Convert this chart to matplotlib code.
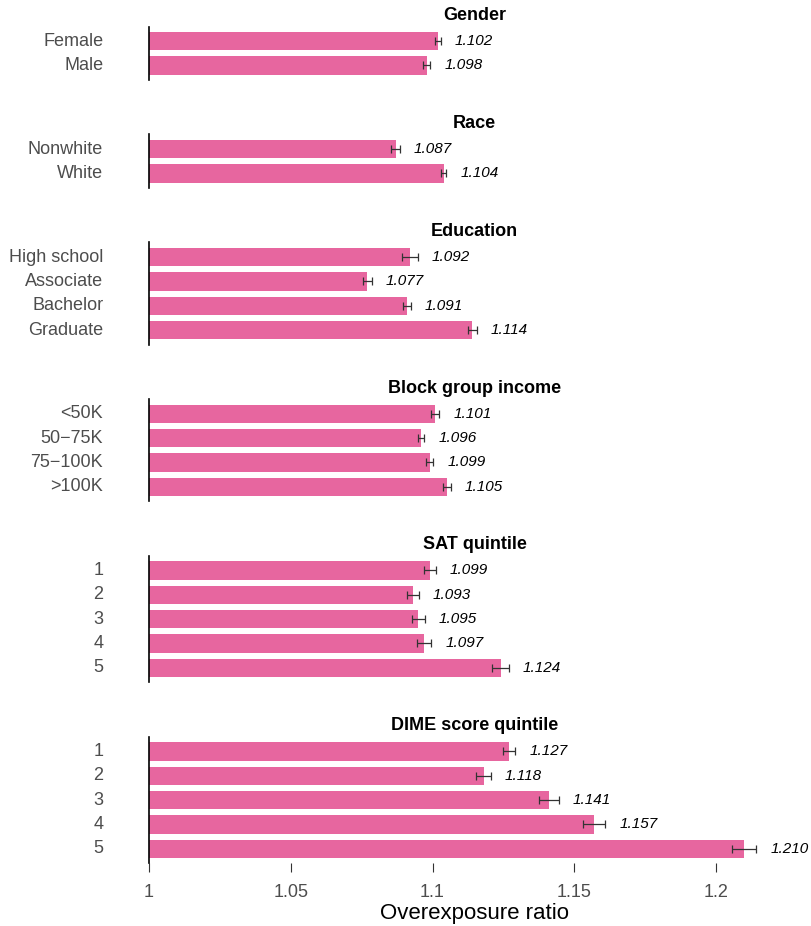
import matplotlib
matplotlib.use("Agg")
import matplotlib.pyplot as plt

plt.rcParams['font.family'] = ['Liberation Sans', 'DejaVu Sans']

# ---- data ---------------------------------------------------------------
panel_titles = ["Gender", "Race", "Education", "Block group income",
                "SAT quintile", "DIME score quintile"]

gender_labels = ["Female", "Male"]
gender_ratio = [1.102, 1.098]
gender_err = [0.0010, 0.0012]

race_labels = ["Nonwhite", "White"]
race_ratio = [1.087, 1.104]
race_err = [0.0016, 0.0009]

education_labels = ["High school", "Associate", "Bachelor", "Graduate"]
education_ratio = [1.092, 1.077, 1.091, 1.114]
education_err = [0.0029, 0.0016, 0.0014, 0.0016]

income_labels = ["<50K", "50\u221275K", "75\u2212100K", ">100K"]
income_ratio = [1.101, 1.096, 1.099, 1.105]
income_err = [0.0014, 0.0011, 0.0013, 0.0014]

sat_labels = ["1", "2", "3", "4", "5"]
sat_ratio = [1.099, 1.093, 1.095, 1.097, 1.124]
sat_err = [0.0021, 0.0021, 0.0024, 0.0026, 0.0030]

dime_labels = ["1", "2", "3", "4", "5"]
dime_ratio = [1.127, 1.118, 1.141, 1.157, 1.210]
dime_err = [0.0022, 0.0026, 0.0036, 0.0040, 0.0042]

x_ticks = [1.0, 1.05, 1.1, 1.15, 1.2]
x_tick_labels = ["1", "1.05", "1.1", "1.15", "1.2"]

panels = [
    (gender_labels, gender_ratio, gender_err),
    (race_labels, race_ratio, race_err),
    (education_labels, education_ratio, education_err),
    (income_labels, income_ratio, income_err),
    (sat_labels, sat_ratio, sat_err),
    (dime_labels, dime_ratio, dime_err),
]

# ---- layout (pixels) ----------------------------------------------------
W, H = 811, 926
BAR_COLOR = "#E7669F"
GRAY = "#4D4D4D"
row_px = 24.35          # height of one category row
gap_px = 54.4           # space between panels (holds the strip title)
top_px = 26.5
left_px, right_px = 149, 800
x_min = 1.0
x_max = x_min + (right_px - left_px) / 2835.0

fig = plt.figure(figsize=(W / 100, H / 100), dpi=100)

y_cursor = top_px
for i, (title, (labels, ratio, err)) in enumerate(zip(panel_titles, panels)):
    n = len(labels)
    h_px = (n + 0.2) * row_px
    ax = fig.add_axes([left_px / W, 1 - (y_cursor + h_px) / H,
                       (right_px - left_px) / W, h_px / H])
    y_cursor += h_px + gap_px

    ypos = list(range(n))
    ax.barh(ypos, [r - x_min for r in ratio], left=x_min, height=0.75,
            color=BAR_COLOR, zorder=2)
    ax.errorbar(ratio, ypos, xerr=err, fmt="none", ecolor="#333333",
                elinewidth=0.9, capsize=3.2, capthick=0.9, zorder=3)
    for r, e, y in zip(ratio, err, ypos):
        ax.annotate(f"{r:.3f}", xy=(r + e, y), xytext=(10, 0),
                    textcoords="offset points", ha="left", va="center",
                    fontsize=11, fontstyle="italic", color="black")

    ax.set_xlim(x_min, x_max)
    ax.set_ylim(n - 0.4, -0.6)
    ax.set_yticks(ypos)
    ax.set_yticklabels(labels, fontsize=13, color=GRAY, va="center")
    ax.tick_params(axis="y", length=0, pad=33)

    for side in ("top", "right", "bottom"):
        ax.spines[side].set_visible(False)
    ax.spines["left"].set_linewidth(1.2)
    ax.spines["left"].set_color("black")
    ax.spines["left"].set_zorder(4)

    ax.set_title(title, fontsize=13, fontweight="bold", pad=4.7,
                 color="black")

    if i == len(panels) - 1:
        ax.set_xticks(x_ticks)
        ax.set_xticklabels(x_tick_labels, fontsize=13, color=GRAY)
        ax.tick_params(axis="x", length=6.2, width=0.8, color="#333333",
                       pad=8.6)
    else:
        ax.set_xticks([])

fig.text((left_px + right_px) / 2 / W, 7.5 / H, "Overexposure ratio",
         ha="center", va="baseline", fontsize=16, color="black")

fig.savefig("out.png", dpi=100)
